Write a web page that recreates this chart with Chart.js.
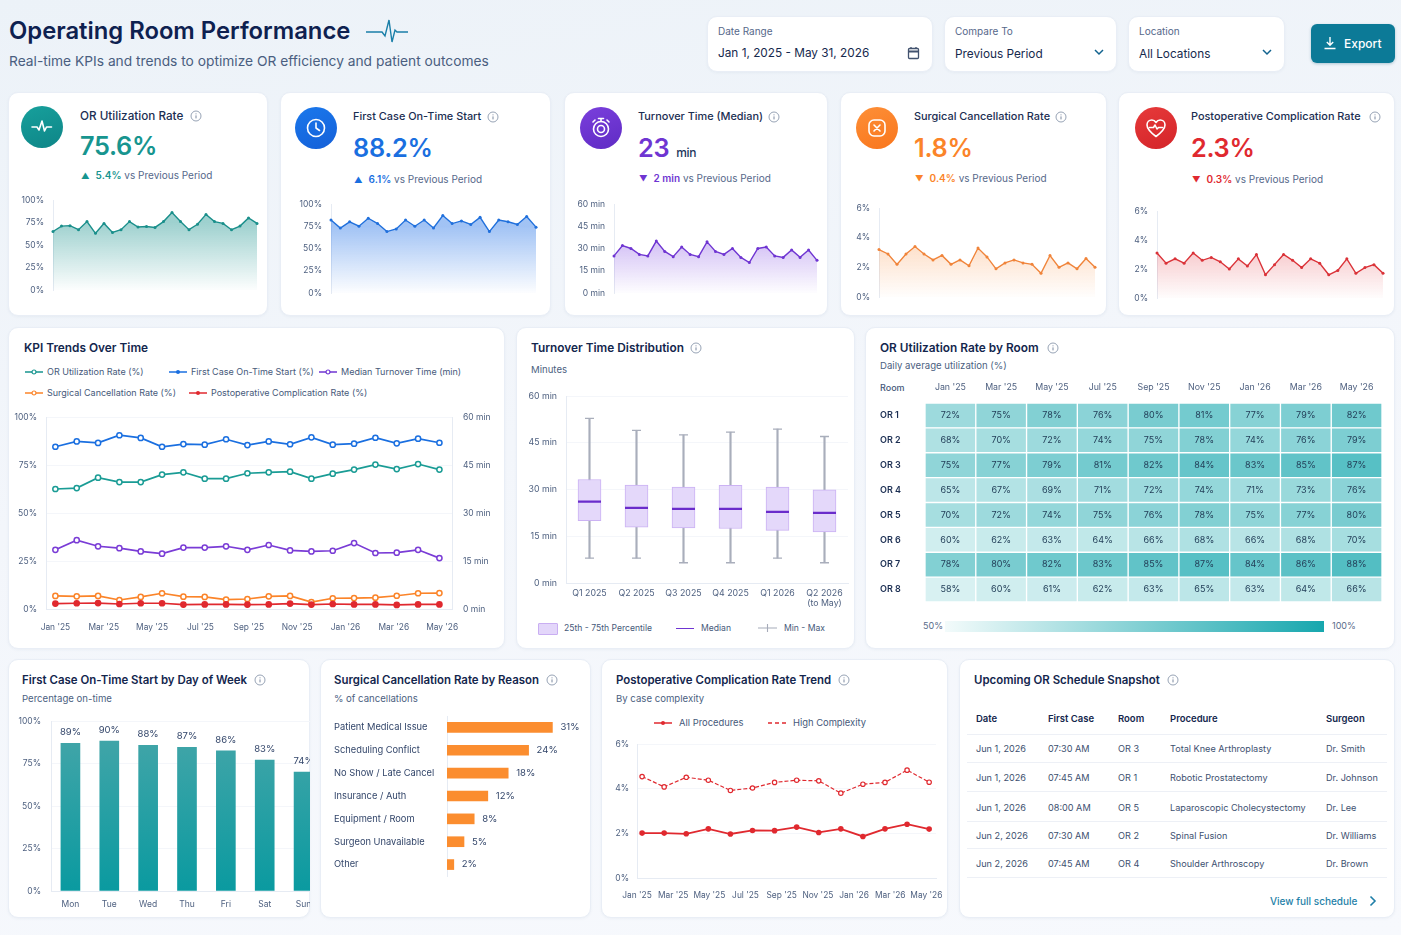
<!DOCTYPE html>
<html lang="en">
<head>
<meta charset="UTF-8">
<title>Operating Room Performance</title>
<script src="https://cdn.jsdelivr.net/npm/chart.js"></script>
<style>
  html, body { margin: 0; padding: 0; }
  body { position: relative; width: 1401px; height: 935px; overflow: hidden; font-family: Inter, "Noto Sans", sans-serif; color: #14284b;
         background: linear-gradient(170deg, #ecf2f8 0%, #f3f6fb 45%, #f7f9fd 100%); }
  .card { position: absolute; background: #fff; border: 1px solid #e9eef6; border-radius: 10px; box-sizing: border-box; box-shadow: 0 1px 3px rgba(40,70,120,.05); }
  .t { position: absolute; white-space: nowrap; transform: translateY(-50%); line-height: 1.2; }
  .h { font-size: 11.85px; font-weight: 600; color: #13264d; }
  .h3 { font-size: 11.45px; font-weight: 600; color: #13264d; }
  .s { font-size: 9.6px; color: #4c5f7f; }
  .l { font-size: 9px; color: #46597a; }
  .ic { position: absolute; border-radius: 50%; display: flex; align-items: center; justify-content: center; }
  .abs { position: absolute; }
</style>
</head>
<body>
<script>
// sparkline values
const sparkUtil = [65,71,71.5,67,76,63,74,64,67,76,70,70.5,69.5,76,86,76,67,73,84,76,74,67,71,80,74];
const sparkStart = [82,73,80,75,84,78,69,72,82,75,82,73,87,78,81,77,85,69,82,80,77,86,74];
const sparkTurn = [25,32,30,26,25,35,28,24.5,31,26,24.5,34.5,28,26,30,24,20.5,30,31,25,24,29,24,29,22];
const sparkCancel = [3.2,2.9,2.2,2.9,3.4,2.9,2.5,2.8,2.2,2.5,2.1,3.3,2.7,1.9,2.3,2.5,2.3,2.2,1.6,2.8,2.0,2.3,1.9,2.6,2.0];
const sparkComp = [3.1,2.4,2.7,2.4,3.1,2.6,2.8,2.5,2.0,2.7,2.2,3.0,1.6,2.3,3.0,2.6,2.1,2.7,2.4,1.6,1.9,2.7,1.7,2.1,2.3,1.7];

// KPI trends
const monthTicks = ["Jan '25","Mar '25","May '25","Jul '25","Sep '25","Nov '25","Jan '26","Mar '26","May '26"];
const trendUtil = [62.5,63,68.4,66.1,66.1,70,71.2,67.9,67.9,70.7,71.2,71.5,67.9,70.5,72.6,75.2,72.9,75.5,72.6];
const trendStart = [84.5,87.3,86.5,90.5,89.1,84.5,85.9,85.6,88.4,85.4,87.3,85.8,89.4,85.6,86.1,89.2,86.3,88.7,86.6];
const trendTurn = [18.5,21.5,19.6,19,18,17.3,19.2,19.2,19.6,18.5,20,18.3,18,18.2,20.6,17.5,17.6,18.5,15.9];
const trendCancel = [6.8,6.6,6.8,4.7,6.3,8.2,6.4,6.3,4.9,5.2,6.6,6.8,3.6,5.6,5.7,5.9,6.9,8.2,8.3];
const trendComp = [2.8,3,3.1,2.6,3,3,2.3,2.4,2.4,2.3,2.4,2.8,2.3,2.6,2.4,2.4,2.1,2.4,2.4];

// turnover box plot
const quarters = ["Q1 2025","Q2 2025","Q3 2025","Q4 2025","Q1 2026",["Q2 2026","(to May)"]];
const boxMin = [8,8,6.5,6.5,8,6.5];
const boxQ1 = [20,17.9,17.7,17.5,16.9,16.4];
const boxMed = [26.1,24.1,23.8,23.8,22.8,22.5];
const boxQ3 = [33.2,31.4,30.8,31.3,30.8,29.9];
const boxMax = [52.8,49,47.5,48.4,49.4,47];

// heatmap
const heatMonths = monthTicks;
const rooms = ["OR 1","OR 2","OR 3","OR 4","OR 5","OR 6","OR 7","OR 8"];
const or1 = [72,75,78,76,80,81,77,79,82];
const or2 = [68,70,72,74,75,78,74,76,79];
const or3 = [75,77,79,81,82,84,83,85,87];
const or4 = [65,67,69,71,72,74,71,73,76];
const or5 = [70,72,74,75,76,78,75,77,80];
const or6 = [60,62,63,64,66,68,66,68,70];
const or7 = [78,80,82,83,85,87,84,86,88];
const or8 = [58,60,61,62,63,65,63,64,66];
const roomRows = [or1,or2,or3,or4,or5,or6,or7,or8];

// day of week: bar height and printed label differ in the picture
const days = ["Mon","Tue","Wed","Thu","Fri","Sat","Sun"];
const dayBars = [86.9,88.2,85.7,84.5,82.5,77,70];
const dayLabels = ["89%","90%","88%","87%","86%","83%","74%"];

// cancel reasons
const reasons = ["Patient Medical Issue","Scheduling Conflict","No Show / Late Cancel","Insurance / Auth","Equipment / Room","Surgeon Unavailable","Other"];
const reasonVals = [31,24,18,12,8,5,2];

// complication trend
const compAll = [2.01,2.01,1.98,2.2,1.97,2.13,2.12,2.28,2.04,2.2,1.86,2.2,2.41,2.19];
const compHigh = [4.54,4.08,4.51,4.38,3.92,4.03,4.28,4.38,4.35,3.8,4.2,4.28,4.83,4.29];

// schedule table
const schedHead = ["Date","First Case","Room","Procedure","Surgeon"];
const schedRows = [
  ["Jun 1, 2026","07:30 AM","OR 3","Total Knee Arthroplasty","Dr. Smith"],
  ["Jun 1, 2026","07:45 AM","OR 1","Robotic Prostatectomy","Dr. Johnson"],
  ["Jun 1, 2026","08:00 AM","OR 5","Laparoscopic Cholecystectomy","Dr. Lee"],
  ["Jun 2, 2026","07:30 AM","OR 2","Spinal Fusion","Dr. Williams"],
  ["Jun 2, 2026","07:45 AM","OR 4","Shoulder Arthroscopy","Dr. Brown"]
];

const TEAL = '#17958f', BLUE = '#1a6fe0', PURPLE = '#6f35d2', ORANGE = '#fb8429', RED = '#e0292f';
const TICK = '#4f6180', AXIS = '#e6ebf3', GRID = '#f4f6fa';

function add(html) { document.body.insertAdjacentHTML('beforeend', html); }
function card(x, y, x2, y2) { add(`<div class="card" style="left:${x}px;top:${y}px;width:${x2-x}px;height:${y2-y}px"></div>`); }
function T(x, y, text, cls, style) { add(`<div class="t ${cls||''}" style="left:${x}px;top:${y}px;${style||''}">${text}</div>`); }
function info(x, y) {
  add(`<svg class="abs" style="left:${x-6}px;top:${y-6}px" width="12" height="12" viewBox="0 0 12 12"><circle cx="6" cy="6" r="5" fill="none" stroke="#8b98ad" stroke-width=".9"/><path d="M6 5.4v3M6 3.4v.9" stroke="#7a889f" stroke-width="1"/></svg>`);
}
function icon(cx, cy, r, bg, inner) {
  add(`<div class="ic" style="left:${cx-r}px;top:${cy-r}px;width:${2*r}px;height:${2*r}px;background:${bg}"><svg width="26" height="26" viewBox="0 0 26 26" fill="none" stroke="#fff" stroke-width="1.6" stroke-linecap="round" stroke-linejoin="round">${inner}</svg></div>`);
}

// header
T(9, 31, 'Operating Room Performance', '', 'font-size:23.8px;font-weight:600;color:#0e2150');
add(`<svg class="abs" style="left:365px;top:18px" width="44" height="26" viewBox="0 0 44 26" fill="none" stroke="#1a7fa8" stroke-width="1.4"><path d="M1 14H17L20 18L24 2L27 24L30 12L32 14H43"/></svg>`);
T(9, 61, 'Real-time KPIs and trends to optimize OR efficiency and patient outcomes', '', 'font-size:13.77px;color:#4a5e80');
card(707, 16, 933, 72); card(944, 16, 1117, 72); card(1128, 16, 1285, 72);
T(718, 31, 'Date Range', '', 'font-size:10px;color:#56688a');
T(718, 53, 'Jan 1, 2025 - May 31, 2026', '', 'font-size:11.8px;color:#16294d');
T(955, 31, 'Compare To', '', 'font-size:10px;color:#56688a');
T(955, 54, 'Previous Period', '', 'font-size:11.8px;color:#16294d');
T(1139, 31, 'Location', '', 'font-size:10px;color:#56688a');
T(1139, 54, 'All Locations', '', 'font-size:11.8px;color:#16294d');
add(`<svg class="abs" style="left:907px;top:46px" width="13" height="14" viewBox="0 0 13 14" fill="none" stroke="#42536f" stroke-width="1.3"><rect x="1.5" y="2.5" width="10" height="10" rx="1"/><path d="M1.5 5.5h10" stroke-width="2"/><path d="M4 1v2M9 1v2"/></svg>`);
[1099, 1267].forEach(x => add(`<svg class="abs" style="left:${x-5}px;top:49px" width="10" height="7" viewBox="0 0 10 7" fill="none" stroke="#12638f" stroke-width="1.5"><path d="M1 1l4 4 4-4"/></svg>`));
add(`<div class="abs" style="left:1311px;top:24px;width:84px;height:39px;border-radius:6px;background:#0c7a97;box-shadow:0 1px 3px rgba(12,90,120,.3)"></div>`);
add(`<svg class="abs" style="left:1323px;top:36px" width="14" height="14" viewBox="0 0 14 14" fill="none" stroke="#fff" stroke-width="1.4"><path d="M7 1v8M3.8 6L7 9.2 10.2 6M1.5 12.5h11"/></svg>`);
T(1344, 44, 'Export', '', 'font-size:12px;font-weight:500;color:#fff');

// KPI cards
card(8, 92, 268, 316); card(280, 92, 551, 316); card(564, 92, 828, 316); card(840, 92, 1107, 316); card(1118, 92, 1395, 316);
card(8, 327, 505, 649); card(516, 327, 855, 649); card(865, 327, 1395, 649);
card(8, 659, 310, 918); card(320, 659, 591, 918); card(601, 659, 948, 918); card(959, 659, 1395, 918);

icon(42, 127, 21, 'linear-gradient(160deg,#17a09c,#0e8587)', '<path d="M3 13h5l2 3 3-9 2.500 10 2-4h5"/>');
icon(316, 128, 21, 'linear-gradient(160deg,#1a78ec,#1560d8)', '<circle cx="13" cy="13" r="8.500"/><path d="M13 8v5l3.500 2.500"/>');
icon(601, 128, 21, 'linear-gradient(160deg,#7a3fdc,#5f2bc4)', '<circle cx="13" cy="14" r="7.500"/><circle cx="13" cy="14" r="3.500"/><path d="M10.500 3.500h5M13 3.500v3M5 7l2 -2M21 7l-2 -2"/>');
icon(877, 128, 21, 'linear-gradient(160deg,#fd8f37,#f9761d)', '<rect x="5" y="5" width="16" height="16" rx="5"/><path d="M10 10l6 6M16 10l-6 6"/>');
icon(1156, 128, 21, 'linear-gradient(160deg,#e63a3a,#d42429)', '<path d="M13 21.500C7 17 4 13.500 4 10c0-3 2.200-5 4.800-5 1.800 0 3.300 1 4.200 2.500C13.900 6 15.400 5 17.200 5 19.800 5 22 7 22 10c0 3.500-3 7-9 11.500z"/><path d="M6.500 12.500h4l1.500-2.500 2 4 1.500-1.500h4"/>');

function kpi(x, titleY, title, infoX, val, valY, unit, color, arrow, delta, deltaY, titleSize) {
  T(x, titleY, title, '', `font-size:${titleSize || 10.9}px;font-weight:500;color:#1b2e52`);
  info(infoX, titleY);
  T(x, valY, val + (unit ? `<span style="font-size:12px;font-weight:500;color:#22365c;margin-left:7px">${unit}</span>` : ''), '', `font-size:25.3px;font-weight:600;letter-spacing:-.3px;color:${color}`);
  T(x + 1, deltaY, `<span style="font-size:8.5px;margin-right:6px">${arrow}</span><span style="font-weight:600">${delta}</span> <span style="color:#56688a">vs Previous Period</span>`, '', `font-size:10px;color:${color}`);
}
kpi(80, 116, 'OR Utilization Rate', 196, '75.6%', 146, '', TEAL, '▲', '5.4%', 175, 11.7);
kpi(353, 117, 'First Case On-Time Start', 493, '88.2%', 148, '', BLUE, '▲', '6.1%', 179);
kpi(638, 117, 'Turnover Time (Median)', 774, '23', 148, 'min', PURPLE, '▼', '2 min', 178);
kpi(914, 117, 'Surgical Cancellation Rate', 1061, '1.8%', 148, '', ORANGE, '▼', '0.4%', 178);
kpi(1191, 117, 'Postoperative Complication Rate', 1375, '2.3%', 148, '', RED, '▼', '0.3%', 179);

// card titles
T(24, 348, 'KPI Trends Over Time', 'h');
T(531, 348, 'Turnover Time Distribution', 'h'); info(696, 348);
T(531, 370, 'Minutes', 's');
T(880, 348, 'OR Utilization Rate by Room', 'h'); info(1053, 348);
T(880, 366, 'Daily average utilization (%)', 's');
T(880, 388, 'Room', 'l', 'font-weight:500');
T(22, 681, 'First Case On-Time Start by Day of Week', 'h3'); info(260, 680);
T(22, 699, 'Percentage on-time', 's');
T(334, 681, 'Surgical Cancellation Rate by Reason', 'h3'); info(552, 680);
T(334, 699, '% of cancellations', 's');
T(616, 681, 'Postoperative Complication Rate Trend', 'h3'); info(844, 680);
T(616, 699, 'By case complexity', 's');
T(974, 681, 'Upcoming OR Schedule Snapshot', 'h3'); info(1173, 680);

// legends drawn next to the charts
function swatch(x, y, color, hollow, dash) {
  const dot = hollow ? `<circle cx="9" cy="4" r="2" fill="#fff" stroke="${color}" stroke-width="1.2"/>` : `<circle cx="9" cy="4" r="2" fill="${color}"/>`;
  add(`<svg class="abs" style="left:${x}px;top:${y-4}px" width="18" height="8"><path d="M0 4h18" stroke="${color}" stroke-width="1.500" ${dash ? 'stroke-dasharray="4 3"' : ''}/>${dash ? '' : dot}</svg>`);
}
swatch(25, 372, TEAL, true); T(47, 372, 'OR Utilization Rate (%)', 'l');
swatch(169, 372, BLUE, false); T(191, 372, 'First Case On-Time Start (%)', 'l');
swatch(319, 372, PURPLE, true); T(341, 372, 'Median Turnover Time (min)', 'l');
swatch(25, 393, ORANGE, true); T(47, 393, 'Surgical Cancellation Rate (%)', 'l');
swatch(189, 393, RED, false); T(211, 393, 'Postoperative Complication Rate (%)', 'l');

add(`<div class="abs" style="left:538px;top:623px;width:18px;height:10px;background:#e3d6fa;border:1px solid #c9aef2;border-radius:1px"></div>`);
T(564, 628, '25th - 75th Percentile', 'l', 'font-size:8.6px');
add(`<div class="abs" style="left:676px;top:627.500px;width:18px;height:1.500px;background:${PURPLE}"></div>`);
T(701, 628, 'Median', 'l', 'font-size:8.6px');
add(`<svg class="abs" style="left:758px;top:623px" width="19" height="10"><path d="M0 5h19M9.500 1v8" stroke="#a6abb9" stroke-width="1.100"/></svg>`);
T(784, 628, 'Min - Max', 'l', 'font-size:8.6px');

swatch(654, 723, RED, false); T(679, 723, 'All Procedures', 'l', 'font-size:9.4px');
swatch(768, 723, RED, false, true); T(793, 723, 'High Complexity', 'l', 'font-size:9.4px');

T(923, 626, '50%', 'l', 'color:#5a6c8a');
add(`<div class="abs" style="left:945px;top:621px;width:379px;height:11px;background:linear-gradient(90deg,#f3fbfb,#17a7ae)"></div>`);
T(1332, 626, '100%', 'l', 'color:#5a6c8a');

// schedule table
const schedX = [976, 1048, 1118, 1170, 1326];
const rowY = [748, 777, 807, 835, 863];
const sepY = [734, 762, 791, 821, 848, 877];
schedHead.forEach((h, i) => T(schedX[i], 719, h, '', 'font-size:9.5px;font-weight:600;color:#13264d'));
schedRows.forEach((r, n) => r.forEach((c, i) => T(schedX[i], rowY[n], c, '', 'font-size:9.15px;color:#3d506f')));
sepY.forEach(y => add(`<div class="abs" style="left:967px;top:${y}px;width:420px;height:1px;background:#edf0f6"></div>`));
T(1270, 901, 'View full schedule', '', 'font-size:10px;font-weight:500;color:#1f7fa8');
add(`<svg class="abs" style="left:1369px;top:895px" width="8" height="12" viewBox="0 0 8 12" fill="none" stroke="#1f7fa8" stroke-width="1.600"><path d="M1.500 1.500L6 6l-4.500 4.500"/></svg>`);

// chart helpers
function mount(box, clip) {
  const c = document.createElement('canvas');
  c.width = box.r - box.l; c.height = box.b - box.t;
  c.style.cssText = `position:absolute;left:${box.l}px;top:${box.t}px;width:${c.width}px;height:${c.height}px;` + (clip ? `clip-path:inset(0 ${clip}px 0 0);` : '');
  document.body.appendChild(c);
  return c.getContext('2d');
}
// padding puts the plot area at the given rectangle, sides with a visible axis get sized by afterFit
function base(box, plot, sides) {
  return {
    responsive: false, animation: false, events: [],
    layout: { autoPadding: false, padding: {
      left: sides.includes('l') ? 0 : plot.l - box.l,
      right: sides.includes('r') ? 0 : box.r - plot.r,
      top: sides.includes('t') ? 0 : plot.t - box.t,
      bottom: sides.includes('b') ? 0 : box.b - plot.b
    } },
    plugins: { legend: { display: false }, tooltip: { enabled: false } }
  };
}
// scale's own label padding has to go too or the plot area shrinks
function fitW(n) { return s => { s.width = n; s.paddingTop = 0; s.paddingBottom = 0; }; }
function fitH(n) { return s => { s.height = n; s.paddingLeft = 0; s.paddingRight = 0; }; }
function font(size, weight) { return { family: 'Inter', size: size, weight: weight || 400 }; }
function vGrad(color, from, a0, a1) {
  return c => {
    const a = c.chart.chartArea;
    if (!a) return null;
    const g = c.chart.ctx.createLinearGradient(0, a.top + a.height * from, 0, a.bottom);
    g.addColorStop(0, color.replace('A', a0));
    g.addColorStop(1, color.replace('A', a1));
    return g;
  };
}
function points(arr) { return arr.map((y, i) => ({ x: i, y: y })); }

function spark(values, max, step, unit, color, fill, box, plot, from, alpha) {
  new Chart(mount(box), {
    type: 'line',
    data: { labels: values.map((_, i) => i), datasets: [{ data: values, borderColor: color, borderWidth: 1.400, pointRadius: 1.500, pointBackgroundColor: color, pointBorderWidth: 0, tension: 0, fill: 'origin', backgroundColor: vGrad(fill, from, alpha, .01) }] },
    options: Object.assign(base(box, plot, 'l'), { scales: {
      x: { display: false, offset: false },
      y: { min: 0, max: max, afterFit: fitW(plot.l - box.l),
        ticks: { stepSize: step, padding: 9, color: TICK, font: font(8.5), callback: v => v + unit },
        grid: { display: false, drawTicks: false }, border: { color: AXIS } }
    } })
  });
}
spark(sparkUtil, 100, 25, '%', '#1a8f8b', 'rgba(24,145,140,A)', { l: 14, r: 260, t: 192, b: 298 }, { l: 53, r: 257, t: 200, b: 290 }, .25, .42);
spark(sparkStart, 100, 25, '%', '#2070dc', 'rgba(32,112,230,A)', { l: 290, r: 539, t: 196, b: 301 }, { l: 331, r: 536, t: 204, b: 293 }, .25, .42);
spark(sparkTurn, 60, 15, ' min', '#6f35d2', 'rgba(125,70,225,A)', { l: 570, r: 820, t: 196, b: 301 }, { l: 614, r: 817, t: 204, b: 293 }, .45, .32);
spark(sparkCancel, 6, 2, '%', '#f0843a', 'rgba(248,140,60,A)', { l: 850, r: 1098, t: 200, b: 305 }, { l: 879, r: 1095, t: 208, b: 297 }, .45, .26);
spark(sparkComp, 6, 2, '%', '#da3238', 'rgba(225,50,60,A)', { l: 1125, r: 1386, t: 203, b: 306 }, { l: 1157, r: 1383, t: 211, b: 298 }, .45, .26);

// month ticks do not sit on the data points in the picture, so they get their own spacing
function monthAxis(first, step, pad, afterFit) {
  return { type: 'linear', afterFit: afterFit, afterBuildTicks: a => { a.ticks = monthTicks.map((_, i) => ({ value: first + i * step })); },
    ticks: { autoSkip: false, maxRotation: 0, padding: pad, color: TICK, font: font(8.4), callback: (v, i) => monthTicks[i] },
    grid: { display: false, drawTicks: false }, border: { color: AXIS } };
}

// KPI trends
(function () {
  const box = { l: 8, r: 500, t: 405, b: 642 }, plot = { l: 46, r: 452, t: 417, b: 609 };
  const ds = (d, c, axis, r) => ({ data: points(d), yAxisID: axis, borderColor: c, backgroundColor: '#fff', borderWidth: 1.700, pointRadius: r || 2.600, pointBorderWidth: 1.500, pointBackgroundColor: '#fff', tension: 0 });
  const red = ds(trendComp, RED, 'y'); red.pointBackgroundColor = RED;
  new Chart(mount(box), {
    type: 'line',
    data: { datasets: [ds(trendUtil, '#1a9c95', 'y'), ds(trendStart, '#1a6fe0', 'y'), ds(trendTurn, '#7a3cd6', 'y1'), red, ds(trendCancel, ORANGE, 'y')] },
    options: Object.assign(base(box, plot, 'lrb'), { scales: {
      x: Object.assign(monthAxis(0, 2.266, 13, fitH(box.b - plot.b)), { min: -0.44, max: 18.59 }),
      y: { min: 0, max: 100, afterFit: fitW(plot.l - box.l), ticks: { stepSize: 25, padding: 9, color: TICK, font: font(8.5), callback: v => v + '%' }, grid: { color: GRID, drawTicks: false }, border: { color: AXIS } },
      y1: { position: 'right', min: 0, max: 60, afterFit: fitW(box.r - plot.r), ticks: { stepSize: 15, padding: 11, color: TICK, font: font(8.5), callback: v => v + ' min' }, grid: { display: false, drawTicks: false }, border: { color: AXIS } }
    } })
  });
})();

// box plot: floating bars for whiskers and boxes, point markers for median and caps
(function () {
  const box = { l: 520, r: 852, t: 388, b: 615 }, plot = { l: 566, r: 848, t: 396, b: 583 };
  const zip = (a, b) => a.map((v, i) => [v, b[i]]);
  const cap = d => ({ type: 'line', data: d, showLine: false, pointStyle: 'line', pointRadius: 4.500, pointBorderWidth: 1.300, pointBorderColor: '#a9aebb', order: 2 });
  new Chart(mount(box), {
    type: 'bar',
    data: { labels: quarters, datasets: [
      { type: 'line', data: boxMed, showLine: false, pointStyle: 'line', pointRadius: 11.500, pointBorderWidth: 2.200, pointBorderColor: '#6a2ccb', order: 0 },
      { data: zip(boxQ1, boxQ3), barThickness: 23, grouped: false, backgroundColor: '#e4d8fa', borderColor: '#cbb2f3', borderWidth: 1, borderSkipped: false, order: 1 },
      cap(boxMin), cap(boxMax),
      { data: zip(boxMin, boxMax), barThickness: 1.500, grouped: false, backgroundColor: '#a9aebb', order: 3 }
    ] },
    options: Object.assign(base(box, plot, 'lb'), { scales: {
      x: { afterFit: fitH(box.b - plot.b), ticks: { maxRotation: 0, autoSkip: false, padding: 5, color: TICK, font: font(8.8) }, grid: { display: false, drawTicks: false }, border: { color: AXIS } },
      y: { min: 0, max: 60, afterFit: fitW(plot.l - box.l), ticks: { stepSize: 15, padding: 9, color: TICK, font: font(8.8), callback: v => v + ' min' }, grid: { color: GRID, drawTicks: false }, border: { color: AXIS } }
    } })
  });
})();

// heatmap from floating bars, one dataset per month column
function heatColor(v) {
  const t = Math.pow(Math.max(0, Math.min(1, (v - 50) / 50)), 1.15);
  const mix = (a, b) => Math.round(a + (b - a) * t);
  return `rgb(${mix(243, 23)},${mix(251, 167)},${mix(251, 174)})`;
}
(function () {
  const box = { l: 880, r: 1384, t: 378, b: 604 }, plot = { l: 925, r: 1382, t: 403, b: 602 };
  const cellText = {
    id: 'cellText',
    afterDatasetsDraw(chart) {
      const c = chart.ctx;
      c.save(); c.font = '9px Inter'; c.fillStyle = '#24405a'; c.textAlign = 'center'; c.textBaseline = 'middle';
      chart.data.datasets.forEach((d, j) => chart.getDatasetMeta(j).data.forEach((bar, r) => {
        const p = bar.getCenterPoint();
        c.fillText(roomRows[r][j] + '%', p.x, p.y);
      }));
      c.restore();
    }
  };
  new Chart(mount(box), {
    type: 'bar',
    data: { labels: rooms, datasets: heatMonths.map((m, j) => ({
      label: m, data: rooms.map(() => [j, j + 1]), grouped: false, barPercentage: 1, categoryPercentage: 1,
      borderWidth: 1, borderColor: '#fff', borderSkipped: false, backgroundColor: c => heatColor(roomRows[c.dataIndex][j])
    })) },
    plugins: [cellText],
    options: Object.assign(base(box, plot, 'lt'), { indexAxis: 'y', scales: {
      x: { type: 'linear', position: 'top', min: 0, max: 9, afterFit: fitH(plot.t - box.t),
        afterBuildTicks: a => { a.ticks = heatMonths.map((_, i) => ({ value: i + .5 })); },
        ticks: { autoSkip: false, maxRotation: 0, padding: 10, color: TICK, font: font(8.8), callback: (v, i) => heatMonths[i] },
        grid: { display: false, drawTicks: false }, border: { display: false } },
      y: { afterFit: fitW(plot.l - box.l), ticks: { crossAlign: 'far', color: '#1b2e52', font: font(9, 600) }, grid: { display: false, drawTicks: false }, border: { display: false } }
    } })
  });
})();

// first case by weekday, the Sun bar runs off the card in the picture
(function () {
  const box = { l: 10, r: 326, t: 705, b: 915 }, plot = { l: 51, r: 323, t: 721, b: 891 };
  const labels = {
    id: 'barLabels',
    afterDatasetsDraw(chart) {
      const c = chart.ctx;
      c.save(); c.font = '9.500px Inter'; c.fillStyle = '#33466a'; c.textAlign = 'center'; c.textBaseline = 'middle';
      chart.getDatasetMeta(0).data.forEach((b, i) => c.fillText(dayLabels[i], b.x, b.y - 11));
      c.restore();
    }
  };
  new Chart(mount(box, 16), {
    type: 'bar',
    data: { labels: days, datasets: [{ data: dayBars, barThickness: 19, backgroundColor: c => {
      const a = c.chart.chartArea; if (!a) return null;
      const g = c.chart.ctx.createLinearGradient(0, a.top, 0, a.bottom);
      g.addColorStop(0, '#47a6a9'); g.addColorStop(1, '#0a9aa0'); return g;
    } }] },
    plugins: [labels],
    options: Object.assign(base(box, plot, 'lb'), { scales: {
      x: { afterFit: fitH(box.b - plot.b), ticks: { padding: 8, color: TICK, font: font(8.5) }, grid: { display: false, drawTicks: false }, border: { color: AXIS } },
      y: { min: 0, max: 100, afterFit: fitW(plot.l - box.l), ticks: { stepSize: 25, padding: 10, color: TICK, font: font(8.5), callback: v => v + '%' }, grid: { color: GRID, drawTicks: false }, border: { color: AXIS } }
    } })
  });
})();

// cancellation reasons
(function () {
  const box = { l: 334, r: 586, t: 712, b: 880 }, plot = { l: 447, r: 583, t: 716, b: 876 };
  const labels = {
    id: 'reasonLabels',
    afterDatasetsDraw(chart) {
      const c = chart.ctx;
      c.save(); c.font = '9.500px Inter'; c.fillStyle = '#33466a'; c.textAlign = 'left'; c.textBaseline = 'middle';
      chart.getDatasetMeta(0).data.forEach((b, i) => c.fillText(reasonVals[i] + '%', b.x + 8, b.y));
      c.restore();
    }
  };
  new Chart(mount(box), {
    type: 'bar',
    data: { labels: reasons, datasets: [{ data: reasonVals, barThickness: 10, backgroundColor: '#fb8d2f' }] },
    plugins: [labels],
    options: Object.assign(base(box, plot, 'l'), { indexAxis: 'y', scales: {
      x: { display: false, min: 0, max: 40 },
      y: { afterFit: fitW(plot.l - box.l), ticks: { crossAlign: 'far', color: '#33466a', font: font(9.300) }, grid: { display: false, drawTicks: false }, border: { color: AXIS } }
    } })
  });
})();

// complication trend
(function () {
  const box = { l: 606, r: 942, t: 736, b: 910 }, plot = { l: 637, r: 936, t: 744, b: 878 };
  new Chart(mount(box), {
    type: 'line',
    data: { datasets: [
      { data: points(compAll), borderColor: RED, borderWidth: 1.800, pointRadius: 2.800, pointBackgroundColor: RED, pointBorderWidth: 0, tension: 0 },
      { data: points(compHigh), borderColor: RED, borderWidth: 1.200, borderDash: [4, 2], pointRadius: 2.200, pointBackgroundColor: '#fff', pointBorderColor: RED, pointBorderWidth: 1.200, tension: 0 }
    ] },
    options: Object.assign(base(box, plot, 'lb'), { scales: {
      x: Object.assign(monthAxis(-0.23, 1.638, 12, fitH(box.b - plot.b)), { min: -0.23, max: 13.31 }),
      y: { min: 0, max: 6, afterFit: fitW(plot.l - box.l), ticks: { stepSize: 2, padding: 8, color: TICK, font: font(8.5), callback: v => v + '%' }, grid: { color: GRID, drawTicks: false }, border: { color: AXIS } }
    } })
  });
})();
</script>
</body>
</html>
